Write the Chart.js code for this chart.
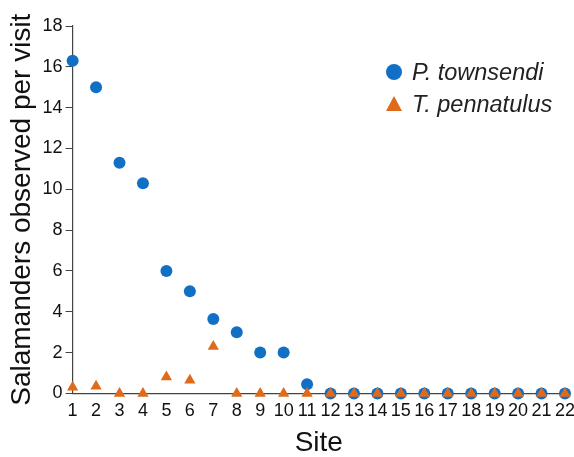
<!DOCTYPE html>
<html>
<head>
<meta charset="utf-8">
<script src="https://cdn.jsdelivr.net/npm/chart.js@4/dist/chart.umd.min.js"></script>
<style>
  html, body { margin: 0; padding: 0; background: #fff; }
  #wrap { width: 574px; height: 457px; }
</style>
</head>
<body>
<div id="wrap"><canvas id="salChart"></canvas></div>
<script>
// data
var sites = [1, 2, 3, 4, 5, 6, 7, 8, 9, 10, 11, 12, 13, 14, 15, 16, 17, 18, 19, 20, 21, 22];
var townsendi = [16.3, 15, 11.3, 10.3, 6, 5, 3.65, 3, 2, 2, 0.45, 0, 0, 0, 0, 0, 0, 0, 0, 0, 0, 0];
var pennatulus = [0.3, 0.35, 0, 0, 0.8, 0.65, 2.3, 0, 0, 0, 0, 0, 0, 0, 0, 0, 0, 0, 0, 0, 0, 0];
var yTicks = [0, 2, 4, 6, 8, 10, 12, 14, 16, 18];

var blue = 'rgb(17, 112, 196)';
var orange = 'rgb(224, 106, 27)';
var font = 'Liberation Sans, Arial, sans-serif';

function pts(vals) {
    return sites.map(function (s, i) { return { x: s, y: vals[i] }; });
}

// legend drawn inside the plot, upper right
var sideLegend = {
    id: 'sideLegend',
    afterDraw: function (chart) {
        var ctx = chart.ctx;
        var items = chart.data.datasets;
        var x0 = 394, y0 = 72, gap = 32;
        ctx.save();
        items.forEach(function (ds, i) {
            var y = y0 + i * gap;
            ctx.fillStyle = ds.backgroundColor;
            ctx.beginPath();
            if (ds.pointStyle === 'triangle') {
                ctx.moveTo(x0, y - 8);
                ctx.lineTo(x0 + 8, y + 7);
                ctx.lineTo(x0 - 8, y + 7);
                ctx.closePath();
            } else {
                ctx.arc(x0, y, 8, 0, Math.PI * 2);
            }
            ctx.fill();
            ctx.fillStyle = '#222';
            ctx.font = 'italic 23.5px ' + font;
            ctx.textBaseline = 'middle';
            ctx.textAlign = 'left';
            ctx.fillText(ds.label, x0 + 18, y + 1);
        });
        ctx.restore();
    }
};

new Chart(document.getElementById('salChart').getContext('2d'), {
    type: 'scatter',
    data: {
        datasets: [{
            label: 'P. townsendi',
            data: pts(townsendi),
            backgroundColor: blue,
            borderColor: blue,
            borderWidth: 0,
            pointStyle: 'circle',
            pointRadius: 6,
            pointHoverRadius: 6,
            order: 1,
            clip: false
        }, {
            label: 'T. pennatulus',
            data: pts(pennatulus),
            backgroundColor: orange,
            borderColor: orange,
            borderWidth: 0,
            pointStyle: 'triangle',
            pointRadius: 6.5,
            pointHoverRadius: 6.5,
            order: 0,
            clip: false
        }]
    },
    options: {
        responsive: true,
        maintainAspectRatio: false,
        animation: false,
        layout: { padding: { top: 26, right: 0, left: 5, bottom: 0 } },
        plugins: {
            legend: { display: false },
            tooltip: { enabled: false }
        },
        scales: {
            x: {
                type: 'linear',
                min: 1,
                max: 22,
                afterBuildTicks: function (axis) {
                    axis.ticks = sites.map(function (s) { return { value: s }; });
                },
                afterFit: function (axis) {
                    // let the last label run to the canvas edge
                    axis.paddingRight = 9;
                },
                grid: { display: false, drawTicks: false },
                border: { display: true, color: '#444', width: 1.2 },
                ticks: {
                    color: '#111',
                    font: { family: font, size: 18 },
                    padding: 7,
                    maxRotation: 0,
                    autoSkip: false
                },
                title: {
                    display: true,
                    text: 'Site',
                    color: '#111',
                    font: { family: font, size: 28, lineHeight: 1 },
                    padding: { top: 0, bottom: 0 }
                }
            },
            y: {
                min: 0,
                max: 18,
                afterBuildTicks: function (axis) {
                    var t = [];
                    for (var v = 0; v <= 18; v++) t.push({ value: v });
                    axis.ticks = t;
                },
                grid: {
                    drawOnChartArea: false,
                    drawTicks: true,
                    tickLength: 7,
                    tickColor: '#444'
                },
                border: { display: true, color: '#444', width: 1.2 },
                ticks: {
                    color: '#111',
                    font: { family: font, size: 18 },
                    padding: 3,
                    callback: function (v) {
                        return yTicks.indexOf(v) >= 0 ? String(v) : '';
                    }
                },
                title: {
                    display: true,
                    text: 'Salamanders observed per visit',
                    color: '#111',
                    font: { family: font, size: 28 },
                    padding: { top: 0, bottom: 1 }
                }
            }
        }
    },
    plugins: [sideLegend]
});
</script>
</body>
</html>
